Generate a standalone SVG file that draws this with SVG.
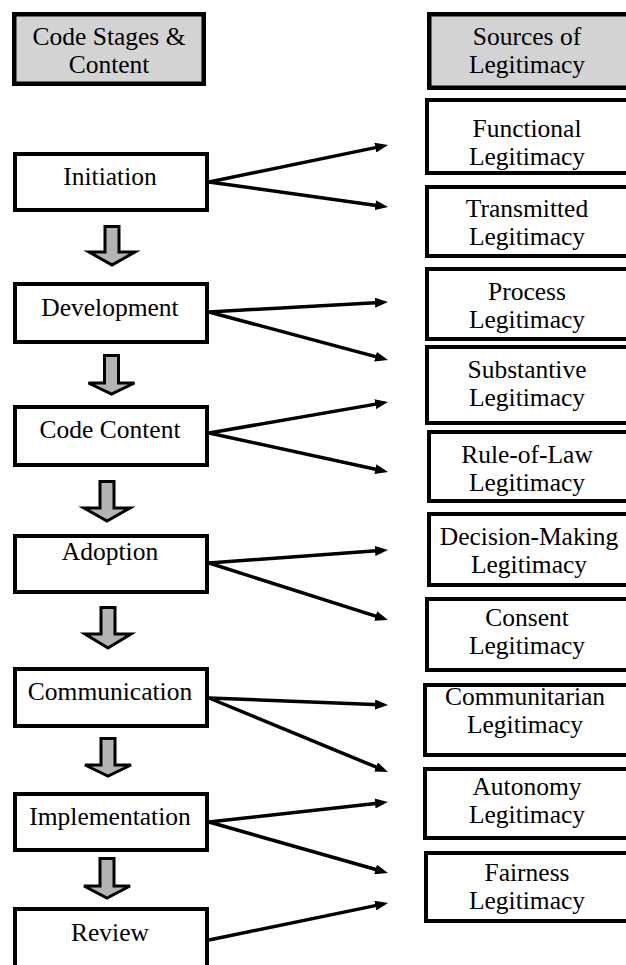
<svg xmlns="http://www.w3.org/2000/svg" width="626" height="965" viewBox="0 0 626 965">
<style>
.box{fill:#ffffff;stroke:#000;stroke-width:4}
.hdr{fill:#d3d3d3;stroke:#000;stroke-width:4.5}
.t{font-family:"Liberation Serif","Times New Roman",serif;font-size:25.5px;fill:#000;text-anchor:middle}
.blk{fill:#b4b4b4;stroke:#000;stroke-width:3;stroke-linejoin:miter}
.con{stroke:#000;stroke-width:3.5;fill:none;marker-end:url(#ah)}
</style>
<defs>
<marker id="ah" markerUnits="userSpaceOnUse" markerWidth="13" markerHeight="10" refX="5" refY="5" orient="auto">
<path d="M0,0 L13,5 L0,10 z" fill="#000"/>
</marker>
</defs>
<rect width="626" height="965" fill="#fff"/>

<g id="hdr-left"><rect class="hdr" x="14.25" y="14.25" width="189.5" height="69.5"/><text class="t" x="109" y="45">Code Stages &amp;</text><text class="t" x="109" y="73">Content</text></g>
<g id="hdr-right"><rect class="hdr" x="429.25" y="14.25" width="220" height="73.5"/><text class="t" x="527" y="45">Sources of</text><text class="t" x="527" y="72.5">Legitimacy</text></g>

<g id="initiation"><rect class="box" x="15" y="154" width="192" height="56"/><text class="t" x="110" y="185">Initiation</text></g>
<g id="development"><rect class="box" x="15" y="284" width="192" height="58"/><text class="t" x="110" y="316">Development</text></g>
<g id="code-content"><rect class="box" x="15" y="407" width="192" height="58"/><text class="t" x="110" y="438">Code Content</text></g>
<g id="adoption"><rect class="box" x="15" y="536" width="192" height="56"/><text class="t" x="110" y="560">Adoption</text></g>
<g id="communication"><rect class="box" x="15" y="669" width="192" height="57"/><text class="t" x="110" y="700">Communication</text></g>
<g id="implementation"><rect class="box" x="15" y="794" width="192" height="56"/><text class="t" x="110" y="825">Implementation</text></g>
<g id="review"><rect class="box" x="15" y="909" width="192" height="80"/><text class="t" x="110" y="941">Review</text></g>

<g id="functional"><rect class="box" x="427" y="100" width="220" height="73"/><text class="t" x="527" y="137">Functional</text><text class="t" x="527" y="164.5">Legitimacy</text></g>
<g id="transmitted"><rect class="box" x="427" y="187" width="220" height="69"/><text class="t" x="527" y="217">Transmitted</text><text class="t" x="527" y="244.5">Legitimacy</text></g>
<g id="process"><rect class="box" x="427" y="269" width="220" height="70"/><text class="t" x="527" y="300">Process</text><text class="t" x="527" y="327.5">Legitimacy</text></g>
<g id="substantive"><rect class="box" x="427" y="347" width="220" height="76"/><text class="t" x="527" y="378">Substantive</text><text class="t" x="527" y="405.5">Legitimacy</text></g>
<g id="rule-of-law"><rect class="box" x="429" y="432" width="220" height="69"/><text class="t" x="527" y="463">Rule-of-Law</text><text class="t" x="527" y="490.5">Legitimacy</text></g>
<g id="decision-making"><rect class="box" x="429" y="514" width="220" height="71"/><text class="t" x="529" y="545">Decision-Making</text><text class="t" x="529" y="572.5">Legitimacy</text></g>
<g id="consent"><rect class="box" x="427" y="599" width="220" height="71"/><text class="t" x="527" y="626">Consent</text><text class="t" x="527" y="653.5">Legitimacy</text></g>
<g id="communitarian"><rect class="box" x="425" y="685" width="220" height="70"/><text class="t" x="525" y="705">Communitarian</text><text class="t" x="525" y="732.5">Legitimacy</text></g>
<g id="autonomy"><rect class="box" x="425" y="769" width="220" height="69"/><text class="t" x="527" y="795">Autonomy</text><text class="t" x="527" y="822.5">Legitimacy</text></g>
<g id="fairness"><rect class="box" x="426" y="853" width="220" height="68"/><text class="t" x="527" y="881">Fairness</text><text class="t" x="527" y="908.5">Legitimacy</text></g>

<g id="connectors">
<polygon class="blk" points="105,226.5 119,226.5 119,252 135,252 112,265 89,252 105,252"/>
<polygon class="blk" points="104.5,355.5 118.5,355.5 118.5,383 134.5,383 111.5,394 88.5,383 104.5,383"/>
<polygon class="blk" points="100,481.5 114,481.5 114,508 130,508 107,521 84,508 100,508"/>
<polygon class="blk" points="101,607.5 115,607.5 115,634 131,634 108,648 85,634 101,634"/>
<polygon class="blk" points="101,738.5 115,738.5 115,765 131,765 108,776 85,765 101,765"/>
<polygon class="blk" points="100,858.5 114,858.5 114,886 130,886 107,898 84,886 100,886"/>

<line class="con" x1="209" y1="182" x2="380.2" y2="146.6"/>
<line class="con" x1="209" y1="182" x2="380.1" y2="205.9"/>
<line class="con" x1="209" y1="312" x2="380.0" y2="302.4"/>
<line class="con" x1="209" y1="312" x2="380.3" y2="357.9"/>
<line class="con" x1="209" y1="433" x2="380.1" y2="403.4"/>
<line class="con" x1="209" y1="433" x2="380.2" y2="470.3"/>
<line class="con" x1="209" y1="563" x2="380.0" y2="550.6"/>
<line class="con" x1="209" y1="563" x2="380.4" y2="617.6"/>
<line class="con" x1="209" y1="698" x2="380.0" y2="704.7"/>
<line class="con" x1="209" y1="698" x2="380.6" y2="768.9"/>
<line class="con" x1="209" y1="822" x2="380.0" y2="802.9"/>
<line class="con" x1="209" y1="822" x2="380.3" y2="870.8"/>
<line class="con" x1="209" y1="940" x2="380.2" y2="904.6"/>
</g>
</svg>
